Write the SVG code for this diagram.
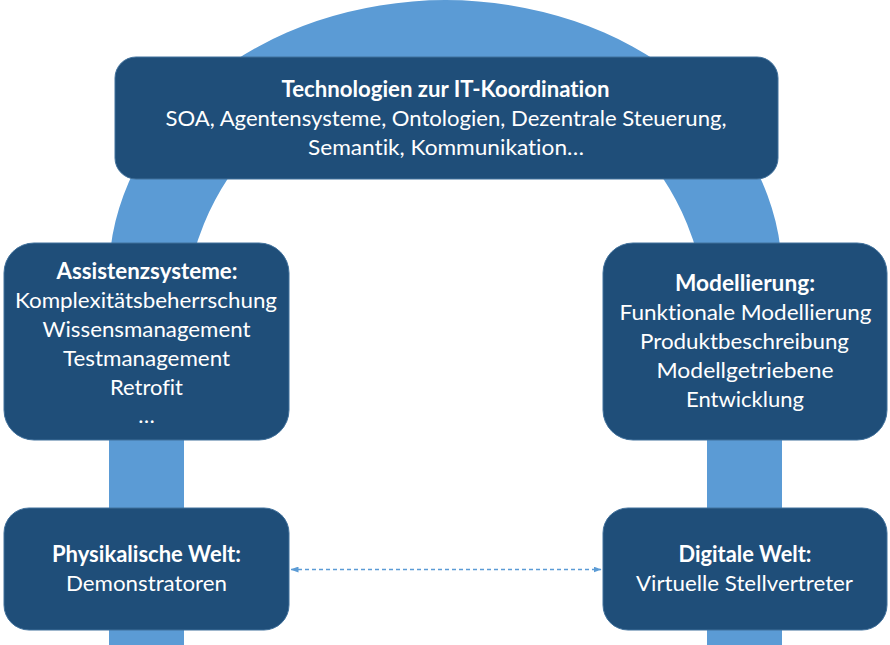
<svg xmlns="http://www.w3.org/2000/svg" width="890" height="645" viewBox="0 0 890 645">
<defs>
<style>
.node{fill:#1F4E79;stroke:#41719C;stroke-width:1}
.t{font-family:Lato,"Open Sans","Liberation Sans",sans-serif;font-size:22px;fill:#FFFFFF;text-anchor:middle;font-variant-ligatures:none;font-feature-settings:"liga" 0,"dlig" 0}
.b{font-weight:bold}
.conn{fill:none;stroke:#5B9BD5;stroke-width:1.3;stroke-dasharray:4 3}
</style>
<marker id="ah" viewBox="0 0 8 6" refX="7.5" refY="3" markerWidth="8" markerHeight="6" markerUnits="userSpaceOnUse" orient="auto-start-reverse">
<path d="M0,0 L8,3 L0,6 Z" fill="#5B9BD5"/>
</marker>
</defs>
<rect width="890" height="645" fill="#FFFFFF"/>
<path id="arch" d="M109,645 L109,275 A336.5,275 0 0 1 782,275 L782,645 L707,645 L707,325 A261.5,264 0 0 0 184,325 L184,645 Z" fill="#5B9BD5"/>
<g id="connectors">
<line class="conn" x1="291" y1="569.5" x2="601" y2="569.5" marker-start="url(#ah)" marker-end="url(#ah)"/>
</g>
<g id="node-tech">
<rect class="node" x="115" y="57" width="663" height="122" rx="21"/>
<text class="t b" x="445.5" y="97" textLength="328" lengthAdjust="spacingAndGlyphs">Technologien zur IT-Koordination</text>
<text class="t" x="446" y="126" textLength="561" lengthAdjust="spacingAndGlyphs">SOA, Agentensysteme, Ontologien, Dezentrale Steuerung,</text>
<text class="t" x="446" y="155" textLength="276" lengthAdjust="spacingAndGlyphs">Semantik, Kommunikation…</text>
</g>
<g id="node-assist">
<rect class="node" x="4" y="243" width="285" height="197" rx="30"/>
<text class="t b" x="147" y="278.5" textLength="181" lengthAdjust="spacingAndGlyphs">Assistenzsysteme:</text>
<text class="t" x="146" y="307.5" textLength="262" lengthAdjust="spacingAndGlyphs">Komplexitätsbeherrschung</text>
<text class="t" x="146.5" y="336.5" textLength="208" lengthAdjust="spacingAndGlyphs">Wissensmanagement</text>
<text class="t" x="146.5" y="365.5" textLength="167" lengthAdjust="spacingAndGlyphs">Testmanagement</text>
<text class="t" x="146.5" y="394.5" textLength="73" lengthAdjust="spacingAndGlyphs">Retrofit</text>
<text class="t" x="146.5" y="423">…</text>
</g>
<g id="node-model">
<rect class="node" x="603" y="243" width="284" height="197" rx="30"/>
<text class="t b" x="745" y="290.5" textLength="140" lengthAdjust="spacingAndGlyphs">Modellierung:</text>
<text class="t" x="745.5" y="320" textLength="252" lengthAdjust="spacingAndGlyphs">Funktionale Modellierung</text>
<text class="t" x="744.5" y="349" textLength="209" lengthAdjust="spacingAndGlyphs">Produktbeschreibung</text>
<text class="t" x="745" y="378" textLength="177" lengthAdjust="spacingAndGlyphs">Modellgetriebene</text>
<text class="t" x="745" y="406.5" textLength="118" lengthAdjust="spacingAndGlyphs">Entwicklung</text>
</g>
<g id="node-phys">
<rect class="node" x="4" y="508" width="285" height="122" rx="25"/>
<text class="t b" x="146.5" y="561.5" textLength="189" lengthAdjust="spacingAndGlyphs">Physikalische Welt:</text>
<text class="t" x="146.5" y="590.5" textLength="161" lengthAdjust="spacingAndGlyphs">Demonstratoren</text>
</g>
<g id="node-digital">
<rect class="node" x="603" y="508" width="284" height="122" rx="25"/>
<text class="t b" x="745" y="561.5" textLength="133" lengthAdjust="spacingAndGlyphs">Digitale Welt:</text>
<text class="t" x="744.5" y="590.5" textLength="217" lengthAdjust="spacingAndGlyphs">Virtuelle Stellvertreter</text>
</g>
</svg>
